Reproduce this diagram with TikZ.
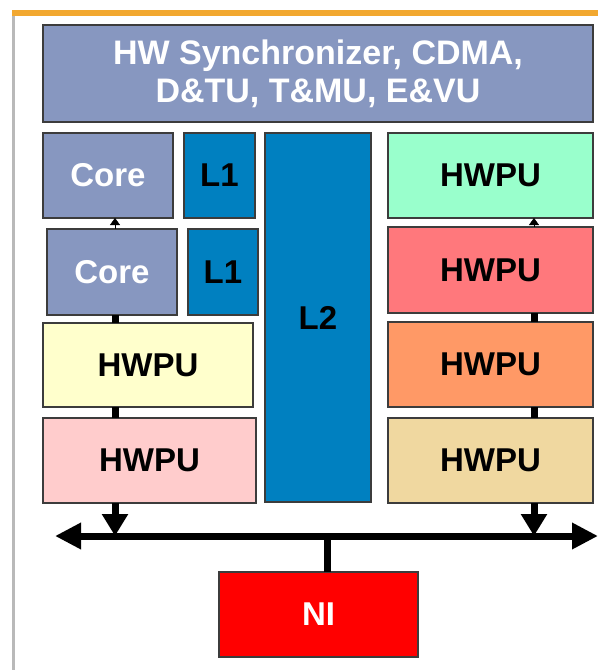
\documentclass[tikz,border=0pt]{standalone}
\usepackage{fontspec}
\setmainfont{Liberation Sans}
\usetikzlibrary{arrows.meta,calc}

\definecolor{slate}{RGB}{135,151,192}
\definecolor{cache}{RGB}{0,128,192}
\definecolor{mint}{RGB}{153,255,204}
\definecolor{salmon}{RGB}{255,120,124}
\definecolor{apricot}{RGB}{255,153,102}
\definecolor{sand}{RGB}{240,216,160}
\definecolor{cream}{RGB}{255,255,204}
\definecolor{blush}{RGB}{255,204,204}
\definecolor{nired}{RGB}{255,0,0}
\definecolor{edge}{RGB}{60,60,60}
\definecolor{topbar}{RGB}{242,168,48}

\tikzset{
  unit/.style={draw=edge, line width=1.3pt, inner sep=0pt, outer sep=0pt,
    anchor=north west, align=center,
    font=\fontsize{33}{38}\selectfont\bfseries},
  light/.style={unit, text=white},
  dark/.style={unit, text=black},
  link/.style={line width=7pt, draw=black},
  tick/.style={line width=0.4pt, -{Triangle[width=10pt,length=7pt]}},
  tap/.style={line width=7pt, -{Triangle[width=25pt,length=22pt]}},
}

\begin{document}
\begin{tikzpicture}[x=1pt,y=-1pt]
\useasboundingbox (0,0) rectangle (598,670);

% frame of the slide
\fill[gray!55] (12,10) rectangle (14.5,670);
\fill[topbar] (12,10) rectangle (598,15.5);

% control block
\node[light, fill=slate, minimum width=550, minimum height=97,
  font=\fontsize{34}{38}\selectfont\bfseries] (sync) at (43,25)
  {HW Synchronizer, CDMA,\\D\&TU, T\&MU, E\&VU};

% left column
\node[light, fill=slate, minimum width=130, minimum height=85] (core1) at (43,133) {Core};
\node[dark, fill=cache, minimum width=71, minimum height=85] (l1a) at (184,133) {L1};
\node[light, fill=slate, minimum width=130, minimum height=86] (core2) at (47,229) {Core};
\node[dark, fill=cache, minimum width=70, minimum height=86] (l1b) at (188,229) {L1};
\node[dark, fill=cream, minimum width=210, minimum height=84] (hwy) at (43,323) {HWPU};
\node[dark, fill=blush, minimum width=213, minimum height=85] (hwp) at (43,418) {HWPU};

% shared memory
\node[dark, fill=cache, minimum width=106, minimum height=369] (l2) at (265,133) {L2};

% right column
\node[dark, fill=mint, minimum width=205, minimum height=85] (hwg) at (388,133) {HWPU};
\node[dark, fill=salmon, minimum width=205, minimum height=86] (hwr) at (388,227) {HWPU};
\node[dark, fill=apricot, minimum width=205, minimum height=85] (hwo) at (388,322) {HWPU};
\node[dark, fill=sand, minimum width=205, minimum height=85] (hwt) at (388,418) {HWPU};

% network interface
\node[light, fill=nired, minimum width=199, minimum height=85] (ni) at (219,572) {NI};

% bus and column positions
\coordinate (colL) at (115,0);
\coordinate (colR) at (534,0);
\coordinate (busL) at (55,536);
\coordinate (busR) at (598,536);
\coordinate (stem) at (327,0);

% left chain
\draw[tick] (core2.north -| colL) -- (core1.south -| colL);
\draw[link] (core2.south -| colL) -- (hwy.north -| colL);
\draw[link] (hwy.south -| colL) -- (hwp.north -| colL);
\draw[tap] (hwp.south -| colL) -- (busL -| colL);

% right chain
\draw[tick] (hwr.north -| colR) -- (hwg.south -| colR);
\draw[link] (hwr.south -| colR) -- (hwo.north -| colR);
\draw[link] (hwo.south -| colR) -- (hwt.north -| colR);
\draw[tap] (hwt.south -| colR) -- (busR -| colR);

% bus
\draw[line width=7pt, {Triangle[width=25pt,length=26pt]}-{Triangle[width=25pt,length=26pt]}]
  (busL) -- (busR);
\draw[link] (ni.north -| stem) -- (busL -| stem);
\end{tikzpicture}
\end{document}
